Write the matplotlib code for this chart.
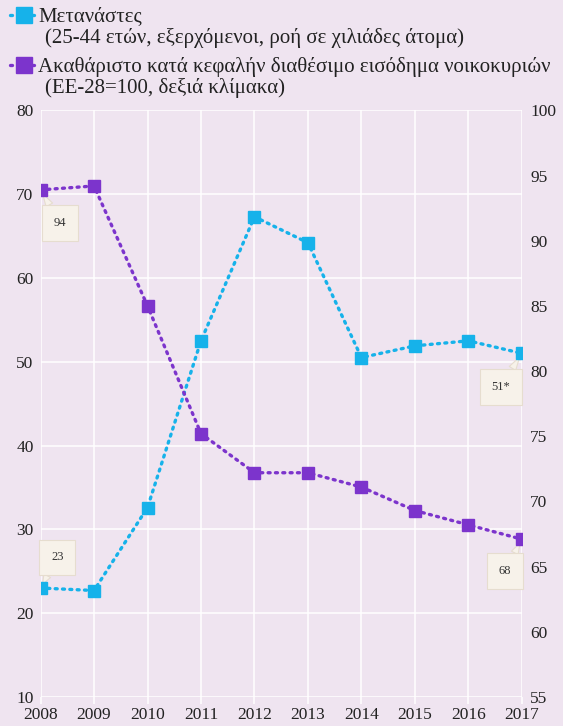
import numpy as np
import matplotlib.pyplot as plt
from matplotlib.lines import Line2D

# ------------------------------------------------------------
# Données
# ------------------------------------------------------------
years = [2008, 2009, 2010, 2011, 2012, 2013, 2014, 2015, 2016, 2017]
migrants = [23.0, 22.7, 32.6, 52.5, 67.3, 64.2, 50.5, 51.9, 52.5, 51.0]
income = [93.9, 94.2, 85.0, 75.2, 72.2, 72.2, 71.1, 69.3, 68.2, 67.1]

migrants_label = "Μετανάστες"
migrants_sub = "(25-44 ετών, εξερχόμενοι, ροή σε χιλιάδες άτομα)"
income_label = "Ακαθάριστο κατά κεφαλήν διαθέσιμο εισόδημα νοικοκυριών"
income_sub = "(ΕΕ-28=100, δεξιά κλίμακα)"

left_ticks = [10, 20, 30, 40, 50, 60, 70, 80]
right_ticks = [55, 60, 65, 70, 75, 80, 85, 90, 95, 100]

BG = '#efe4f0'
CYAN = '#16b2ea'
PURPLE = '#7c34cc'
BOX_FC = '#f7f2ea'
BOX_EC = '#e6ddcf'
SERIF = ['Liberation Serif', 'DejaVu Serif']

plt.rcParams['font.family'] = SERIF

fig = plt.figure(figsize=(5.63, 7.26), dpi=100, facecolor=BG)
ax = fig.add_axes([0.072, 0.040, 0.855, 0.808])
ax.set_facecolor(BG)
ax2 = ax.twinx()

line_kw = dict(linestyle=(0, (0.6, 1.6)), linewidth=2.4, dash_capstyle='round',
               marker='s', markersize=9, zorder=5)
ax.plot(years, migrants, color=CYAN, **line_kw)
ax2.plot(years, income, color=PURPLE, **line_kw)

ax.set_xlim(2008, 2017)
ax.set_ylim(10, 80)
ax2.set_ylim(55, 100)
ax.set_xticks(years)
ax.set_yticks(left_ticks)
ax2.set_yticks(right_ticks)

ax.grid(True, color='white', linewidth=1.1)
ax.set_axisbelow(True)
for a in (ax, ax2):
    for s in a.spines.values():
        s.set_visible(False)
    a.tick_params(colors='white', labelcolor='#222222', labelsize=12.5, length=5, width=1.1)
ax.tick_params(axis='y', length=0, pad=5)
ax2.tick_params(axis='y', length=0, pad=6)
ax.tick_params(axis='x', pad=2)

# étiquettes encadrées
def callout(axis, x, y, text, dx, dy):
    axis.annotate(text, xy=(x, y), xytext=(dx, dy), textcoords='offset points',
                  ha='center', va='center', fontsize=9, color='#333333',
                  bbox=dict(boxstyle='square,pad=0.95', fc=BOX_FC, ec=BOX_EC, lw=0.8),
                  arrowprops=dict(arrowstyle='wedge,tail_width=0.6', fc=BOX_FC, ec=BOX_EC, lw=0.8,
                                  shrinkA=0, shrinkB=3),
                  zorder=4, annotation_clip=False)

callout(ax2, years[0], income[0], "94", 14, -24)
callout(ax, years[0], migrants[0], "23", 12, 22)
callout(ax, years[-1], migrants[-1], "51*", -15, -24)
callout(ax2, years[-1], income[-1], "68", -12, -23)

# légende
def legend_item(y_px, color, title, sub):
    yf = 1 - y_px / 726
    fig.add_artist(Line2D([10 / 563, 34 / 563], [yf, yf], color=color, linestyle=(0, (0.6, 1.6)),
                          linewidth=2.4, dash_capstyle='round', transform=fig.transFigure))
    fig.add_artist(Line2D([24 / 563], [yf], color=color, marker='s', markersize=12,
                          transform=fig.transFigure))
    fig.text(38 / 563, 1 - (y_px + 2) / 726, title, fontsize=15, va='center', color='#222222')
    fig.text(45 / 563, 1 - (y_px + 23) / 726, sub, fontsize=15, va='center', color='#222222')

legend_item(15, CYAN, migrants_label, migrants_sub)
legend_item(65, PURPLE, income_label, income_sub)

fig.savefig('out.png', dpi=100, facecolor=BG)
